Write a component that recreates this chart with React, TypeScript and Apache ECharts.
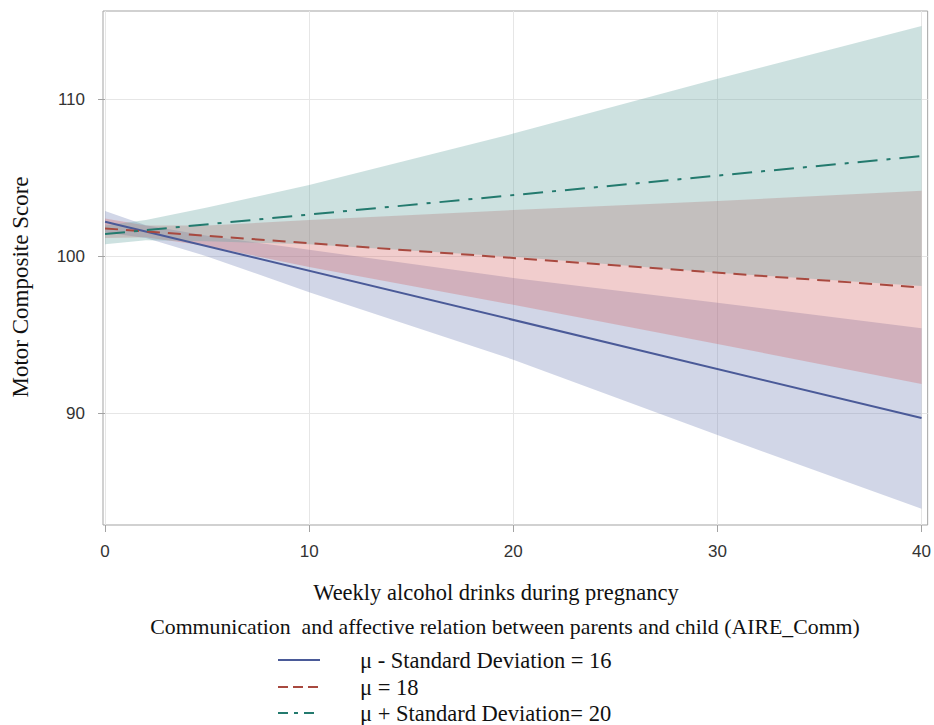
import React, { useEffect, useRef } from "react";
import * as echarts from "echarts";

// x positions at which band limits were read
const bandX = [0, 2, 5, 10, 20, 30, 40];
// fitted lines (straight) read at the ends
const lineX = [0, 40];

const blueLine = [102.19, 89.68];
const redLine = [101.76, 98.0];
const greenLine = [101.4, 106.37];

const blueLower = [101.5, 101.15, 99.98, 97.7, 93.4, 88.6, 83.9];
const blueUpper = [102.87, 101.97, 101.3, 100.4, 98.6, 97.03, 95.4];
const redLower = [101.15, 101.2, 100.64, 99.3, 96.9, 94.4, 91.85];
const redUpper = [102.4, 101.95, 101.94, 102.3, 102.93, 103.5, 104.16];
const greenLower = [100.75, 101.0, 100.94, 100.75, 99.95, 98.94, 98.1];
const greenUpper = [101.95, 102.3, 103.1, 104.52, 107.8, 111.3, 114.65];

const xTicks = [0, 10, 20, 30, 40];
const yTicks = [90, 100, 110];

const seriesNames = [
  "\u03bc - Standard Deviation = 16",
  "\u03bc = 18",
  "\u03bc + Standard Deviation= 20",
];
const xTitle = "Weekly alcohol drinks during pregnancy";
const yTitle = "Motor Composite Score";
const legendTitle =
  "Communication  and affective relation between parents and child (AIRE_Comm)";

const SERIF = "'Liberation Serif', 'Times New Roman', serif";
const SANS = "'Liberation Sans', Arial, sans-serif";

const lineColors = ["#4a5a98", "#a8493f", "#237a6e"];
const lineDashes: any[] = ["solid", [13, 8], [20, 9, 4, 9]];
const legendDashes: any[] = [null, [10, 5], [10, 6, 4, 6]];

function bandSeries(id: string, lower: number[], upper: number[], color: string) {
  return {
    id,
    type: "custom",
    data: [[bandX[0], lower[0]]],
    silent: true,
    z: 1,
    renderItem: (_params: any, api: any) => {
      const pts: number[][] = [];
      for (let i = 0; i < bandX.length; i++) pts.push(api.coord([bandX[i], upper[i]]));
      for (let i = bandX.length - 1; i >= 0; i--) pts.push(api.coord([bandX[i], lower[i]]));
      return {
        type: "polygon",
        shape: { points: pts },
        style: { fill: color, stroke: "none" },
        silent: true,
      };
    },
  };
}

export default function App() {
  const ref = useRef<HTMLDivElement>(null);
  useEffect(() => {
    if (!ref.current) return;
    const chart = echarts.init(ref.current, undefined, { renderer: "svg" });

    const legendRowsY = [660, 687, 713];
    const legendGraphics: any[] = [];
    seriesNames.forEach((name, i) => {
      legendGraphics.push({
        type: "line",
        shape: { x1: 278, y1: legendRowsY[i], x2: 320, y2: legendRowsY[i] },
        style: {
          stroke: lineColors[i],
          lineWidth: 2,
          lineDash: legendDashes[i] || undefined,
        },
      });
      legendGraphics.push({
        type: "text",
        x: 360,
        y: legendRowsY[i],
        style: {
          text: name,
          fontFamily: SERIF,
          fontSize: 22.5,
          fill: "#111111",
          textAlign: "left",
          textVerticalAlign: "middle",
        },
      });
    });

    const option: any = {
      animation: false,
      backgroundColor: "#ffffff",
      grid: {
        left: 103,
        right: 1,
        top: 11,
        bottom: 200,
        show: true,
        borderColor: "#a3a3a3",
        borderWidth: 1,
        backgroundColor: "transparent",
      },
      xAxis: {
        type: "value",
        min: -0.1,
        max: 40.3,
        axisLine: { show: false },
        axisTick: {
          show: true,
          length: 7,
          customValues: xTicks,
          lineStyle: { color: "#a3a3a3" },
        },
        axisLabel: {
          customValues: xTicks,
          margin: 18,
          fontFamily: SANS,
          fontSize: 17,
          color: "#333333",
        },
        splitLine: { show: true, lineStyle: { color: "#e6e6e6", width: 1 } },
      },
      yAxis: {
        type: "value",
        min: 82.87,
        max: 115.61,
        axisLine: { show: false },
        axisTick: {
          show: true,
          length: 7,
          customValues: yTicks,
          lineStyle: { color: "#a3a3a3" },
        },
        axisLabel: {
          customValues: yTicks,
          margin: 18,
          fontFamily: SANS,
          fontSize: 17,
          color: "#333333",
        },
        splitLine: { show: true, lineStyle: { color: "#e6e6e6", width: 1 } },
      },
      graphic: [
        {
          type: "text",
          x: 496,
          y: 592,
          style: {
            text: xTitle,
            fontFamily: SERIF,
            fontSize: 22.5,
            fill: "#111111",
            textAlign: "center",
            textVerticalAlign: "middle",
          },
        },
        {
          type: "text",
          x: 505,
          y: 627,
          style: {
            text: legendTitle,
            fontFamily: SERIF,
            fontSize: 21.8,
            fill: "#111111",
            textAlign: "center",
            textVerticalAlign: "middle",
          },
        },
        {
          type: "text",
          x: 20,
          y: 287,
          rotation: Math.PI / 2,
          style: {
            text: yTitle,
            fontFamily: SERIF,
            fontSize: 23,
            fill: "#111111",
            textAlign: "center",
            textVerticalAlign: "middle",
          },
        },
        ...legendGraphics,
      ],
      series: [
        bandSeries("blueBand", blueLower, blueUpper, "rgba(111,126,179,0.32)"),
        bandSeries("redBand", redLower, redUpper, "rgba(208,91,91,0.30)"),
        bandSeries("greenBand", greenLower, greenUpper, "rgba(102,165,160,0.33)"),
        ...[blueLine, redLine, greenLine].map((vals, k) => ({
          name: seriesNames[k],
          type: "line",
          data: lineX.map((x, i) => [x, vals[i]]),
          symbol: "none",
          color: lineColors[k],
          lineStyle: { color: lineColors[k], width: 2, type: lineDashes[k] },
          z: 5,
        })),
      ],
    };
    chart.setOption(option);
    return () => chart.dispose();
  }, []);
  return (
    <div
      ref={ref}
      style={{ position: "fixed", left: 0, top: 0, width: 934, height: 725, background: "#fff" }}
    />
  );
}
